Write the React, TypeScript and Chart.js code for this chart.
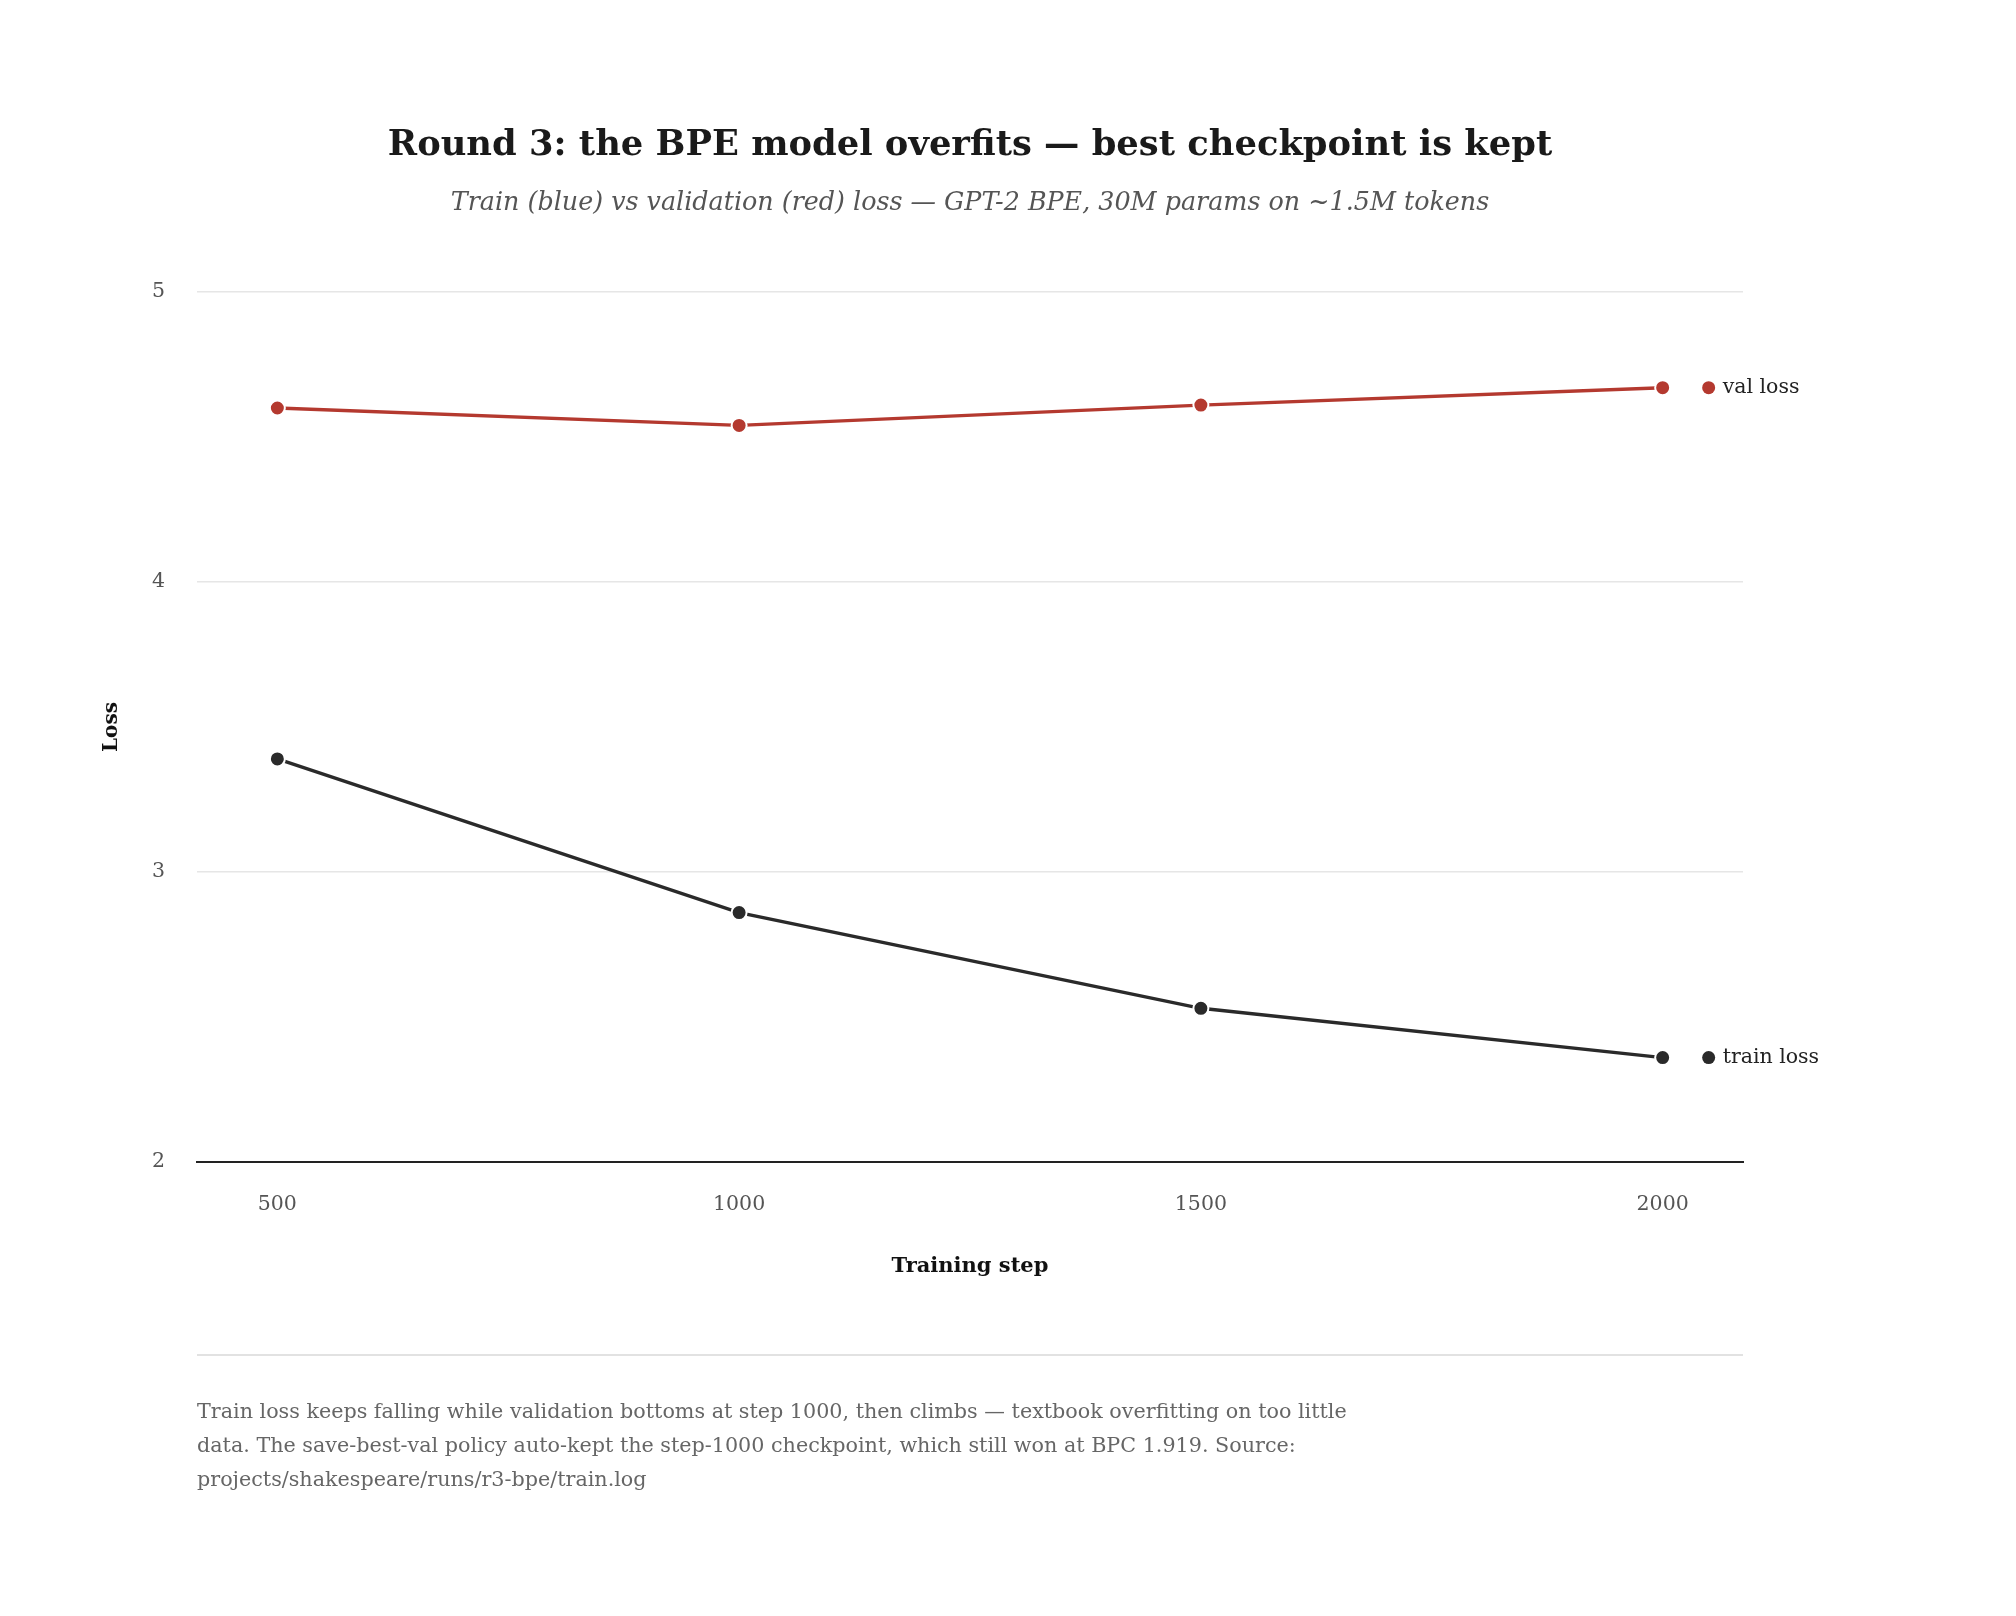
import { useEffect, useRef } from "react";
import { Chart, registerables } from "chart.js";

Chart.register(...registerables);

// Training steps and loss readings
const steps = [500, 1000, 1500, 2000];
const trainLoss = [3.39, 2.86, 2.53, 2.36];
const valLoss = [4.6, 4.54, 4.61, 4.67];

// Axis ticks
const xTicks = [500, 1000, 1500, 2000];
const yTicks = [2, 3, 4, 5];

// Series labels
const trainName = "train loss";
const valName = "val loss";

// Text
const titleText = "Round 3: the BPE model overfits — best checkpoint is kept";
const subtitleText =
  "Train (blue) vs validation (red) loss — GPT-2 BPE, 30M params on ~1.5M tokens";
const xTitle = "Training step";
const yTitle = "Loss";
const noteLines = [
  "Train loss keeps falling while validation bottoms at step 1000, then climbs — textbook overfitting on too little",
  "data. The save-best-val policy auto-kept the step-1000 checkpoint, which still won at BPC 1.919. Source:",
  "projects/shakespeare/runs/r3-bpe/train.log",
];

const SERIF = "'DejaVu Serif', 'Liberation Serif', serif";
const RED = "#b4392f";
const DARK = "#2a2a2a";

// Title and subtitle, centred over the plot area
const heading = {
  id: "heading",
  afterDraw(chart: any) {
    const { ctx, chartArea } = chart;
    const cx = (chartArea.left + chartArea.right) / 2;
    ctx.save();
    ctx.textAlign = "center";
    ctx.textBaseline = "middle";
    ctx.fillStyle = "#1a1a1a";
    ctx.font = `bold 35.3px ${SERIF}`;
    ctx.fillText(titleText, cx, chartArea.top - 146);
    ctx.fillStyle = "#555";
    ctx.font = `italic 25.4px ${SERIF}`;
    ctx.fillText(subtitleText, cx, chartArea.top - 89);
    ctx.restore();
  },
};

// Dot + name at the end of each line
const endLabels = {
  id: "endLabels",
  afterDatasetsDraw(chart: any) {
    const ctx = chart.ctx;
    ctx.save();
    chart.data.datasets.forEach((ds: any, i: number) => {
      const meta = chart.getDatasetMeta(i);
      const last = meta.data[meta.data.length - 1];
      if (!last) return;
      const x = last.x + 46;
      const y = last.y;
      ctx.beginPath();
      ctx.arc(x, y, 6.5, 0, Math.PI * 2);
      ctx.fillStyle = ds.borderColor;
      ctx.fill();
      ctx.fillStyle = "#222";
      ctx.font = `20.5px ${SERIF}`;
      ctx.textAlign = "left";
      ctx.textBaseline = "middle";
      ctx.fillText(ds.label, x + 14, y);
    });
    ctx.restore();
  },
};

// Rule and caption under the plot
const footnote = {
  id: "footnote",
  afterDraw(chart: any) {
    const { ctx, chartArea } = chart;
    ctx.save();
    ctx.strokeStyle = "#e2e2e2";
    ctx.lineWidth = 2;
    ctx.beginPath();
    ctx.moveTo(chartArea.left, chartArea.bottom + 193);
    ctx.lineTo(chartArea.right, chartArea.bottom + 193);
    ctx.stroke();
    ctx.fillStyle = "#666";
    ctx.font = `20.7px ${SERIF}`;
    ctx.textAlign = "left";
    ctx.textBaseline = "middle";
    noteLines.forEach((line, i) => {
      ctx.fillText(line, chartArea.left, chartArea.bottom + 251 + i * 34);
    });
    ctx.restore();
  },
};

export default function App() {
  const canvasRef = useRef<HTMLCanvasElement | null>(null);

  useEffect(() => {
    const canvas = canvasRef.current;
    if (!canvas) return;
    const chart = new Chart(canvas, {
      type: "line",
      data: {
        datasets: [
          {
            label: valName,
            data: steps.map((s, i) => ({ x: s, y: valLoss[i] })),
            borderColor: RED,
            backgroundColor: RED,
            pointBackgroundColor: RED,
            pointBorderColor: "#ffffff",
            pointBorderWidth: 2,
            pointRadius: 7.5,
            borderWidth: 3.4,
            tension: 0,
          },
          {
            label: trainName,
            data: steps.map((s, i) => ({ x: s, y: trainLoss[i] })),
            borderColor: DARK,
            backgroundColor: DARK,
            pointBackgroundColor: DARK,
            pointBorderColor: "#ffffff",
            pointBorderWidth: 2,
            pointRadius: 7.5,
            borderWidth: 3.4,
            tension: 0,
          },
        ],
      },
      options: {
        responsive: false,
        animation: false,
        devicePixelRatio: 1,
        layout: { padding: { left: 0, right: 273, top: 292, bottom: 324 } },
        plugins: {
          legend: { display: false },
          tooltip: { enabled: false },
          title: { display: false },
          subtitle: { display: false },
        },
        scales: {
          x: {
            type: "linear",
            min: 413,
            max: 2087,
            afterBuildTicks: (scale: any) => {
              scale.ticks = xTicks.map((v) => ({ value: v }));
            },
            afterFit: (scale: any) => {
              scale.height = 130;
            },
            grid: { display: false, drawTicks: false },
            border: { display: true, color: "#222", width: 2 },
            ticks: {
              padding: 30,
              color: "#555",
              font: { family: SERIF, size: 20.5 },
              callback: (v: any) => String(v),
            },
            title: {
              display: true,
              text: xTitle,
              color: "#111",
              font: { family: SERIF, size: 21, weight: "bold" },
              padding: { top: 0, bottom: 13 },
            },
          },
          y: {
            type: "linear",
            min: 2,
            max: 5,
            afterBuildTicks: (scale: any) => {
              scale.ticks = yTicks.map((v) => ({ value: v }));
            },
            afterFit: (scale: any) => {
              scale.width = 197;
            },
            grid: { color: "#e6e6e6", lineWidth: 1.5, drawTicks: false },
            border: { display: false },
            ticks: {
              padding: 32,
              color: "#555",
              font: { family: SERIF, size: 20.5 },
              callback: (v: any) => String(v),
            },
            title: {
              display: true,
              text: yTitle,
              color: "#111",
              font: { family: SERIF, size: 20, weight: "bold" },
              padding: { top: 100, bottom: 0 },
            },
          },
        },
      },
      plugins: [heading, endLabels, footnote],
    });
    return () => chart.destroy();
  }, []);

  return (
    <div style={{ position: "absolute", left: 0, top: 0, width: 2016, height: 1616, background: "#fff" }}>
      <canvas ref={canvasRef} width={2016} height={1616} style={{ display: "block" }} />
    </div>
  );
}
